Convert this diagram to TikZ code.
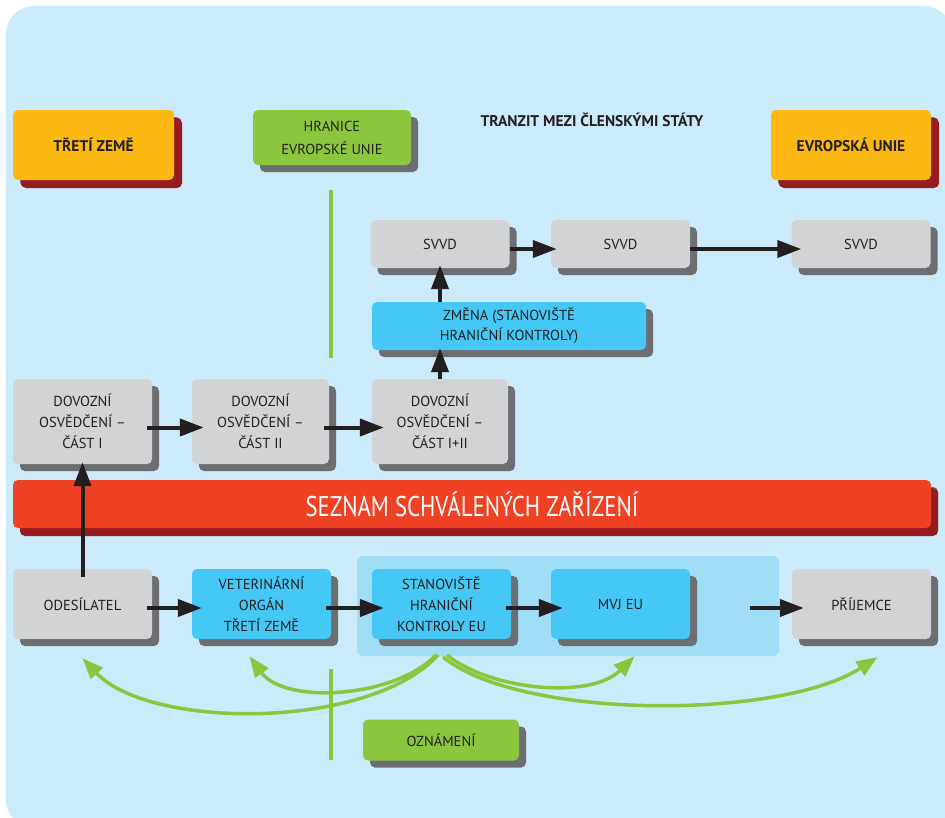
\documentclass[tikz,border=0pt]{standalone}
\usepackage{fontspec}
\setmainfont{PT Sans}
\newfontfamily\narrowfont[FakeStretch=0.8]{PT Sans}
\usetikzlibrary{arrows.meta, positioning, shadows, calc}
\definecolor{bgblue}{RGB}{204,235,250}
\definecolor{hlblue}{RGB}{160,222,246}
\definecolor{boxgray}{RGB}{209,211,212}
\definecolor{boxcyan}{RGB}{69,200,245}
\definecolor{limegreen}{RGB}{140,198,63}
\definecolor{eugold}{RGB}{253,185,19}
\definecolor{darkred}{RGB}{150,28,33}
\definecolor{barred}{RGB}{239,65,35}
\definecolor{shadegray}{RGB}{109,110,113}
\definecolor{txtdark}{RGB}{35,31,32}

\begin{document}
\begin{tikzpicture}[x=1pt, y=-1pt,
    box/.style={rectangle, rounded corners=5pt, minimum width=139pt, align=center, inner sep=2pt, text=txtdark, font=\fontsize{14.5}{21}\selectfont, general shadow={fill=shadegray, shadow xshift=7pt, shadow yshift=-7pt}},
    gbox/.style={box, fill=boxgray},
    cbox/.style={box, fill=boxcyan},
    lbox/.style={box, fill=limegreen},
    obox/.style={box, fill=eugold, minimum width=161pt, minimum height=70pt, font=\fontsize{15.5}{21}\selectfont\bfseries, general shadow={fill=darkred, shadow xshift=8pt, shadow yshift=-8pt}},
    arrow/.style={-{Triangle[length=24pt, width=17pt]}, line width=4pt, txtdark},
    notify/.style={-{Triangle[length=21pt, width=16pt]}, line width=3.5pt, limegreen},
    border/.style={line width=4pt, limegreen},
]
    \useasboundingbox (0,0) rectangle (945,817);
    \begin{scope}
        \clip (0,0) rectangle (945,817);
        \fill[bgblue, rounded corners=28pt] (6,6) rectangle (952,828);
    \end{scope}
    \fill[hlblue, rounded corners=6pt] (357,556) rectangle (779,656);

    \node[obox] (treti) at (93.5,145) {TŘETÍ ZEMĚ};
    \node[lbox, minimum width=158pt, minimum height=55pt, font=\fontsize{14.5}{23}\selectfont] (hranice) at (332,137.5) {HRANICE\\EVROPSKÉ UNIE};
    \node[anchor=base west, font=\fontsize{15.5}{18}\selectfont\bfseries, text=txtdark] (tranzit) at (477,126) {TRANZIT MEZI ČLENSKÝMI STÁTY};
    \node[obox, minimum width=160pt] (evropa) at (851,145) {EVROPSKÁ UNIE};

    \draw[border] (331,190) -- (331,358);
    \draw[border] (331,669) -- (331,760);

    \node[gbox, minimum height=48pt] (svvdA) at (440,244) {SVVD};
    \node[gbox, minimum height=48pt] (svvdB) at (620.5,244) {SVVD};
    \node[gbox, minimum height=48pt] (svvdC) at (861,244) {SVVD};
    \node[cbox, minimum width=274pt, minimum height=48pt, font=\fontsize{14.5}{20}\selectfont] (zmena) at (509,326) {ZMĚNA (STANOVIŠTĚ\\HRANIČNÍ KONTROLY)};

    \node[gbox, minimum height=85pt] (dovozA) at (82.5,421.5) {DOVOZNÍ\\OSVĚDČENÍ –\\ČÁST I};
    \node[gbox, minimum width=137pt, minimum height=85pt] (dovozB) at (260.5,421.5) {DOVOZNÍ\\OSVĚDČENÍ –\\ČÁST II};
    \node[gbox, minimum width=136pt, minimum height=85pt] (dovozC) at (440,421.5) {DOVOZNÍ\\OSVĚDČENÍ –\\ČÁST I+II};

    \node[box, fill=barred, minimum width=918pt, minimum height=48pt, text=white, font=\narrowfont\fontsize{28.5}{32}\selectfont, general shadow={fill=darkred, shadow xshift=7pt, shadow yshift=-8pt}] (seznam) at (472,504) {SEZNAM SCHVÁLENÝCH ZAŘÍZENÍ};

    \node[gbox, minimum height=70pt] (odes) at (82.5,604) {ODESÍLATEL};
    \node[cbox, minimum height=70pt] (vet) at (261.5,604) {VETERINÁRNÍ\\ORGÁN\\TŘETÍ ZEMĚ};
    \node[cbox, minimum height=70pt] (stan) at (441.5,604) {STANOVIŠTĚ\\HRANIČNÍ\\KONTROLY EU};
    \node[cbox, minimum height=70pt] (mvj) at (620.5,604) {MVJ EU};
    \node[gbox, minimum height=70pt] (prij) at (861.5,604) {PŘÍJEMCE};
    \coordinate (mvjout) at (750,608);

    \node[lbox, minimum width=156pt, minimum height=41pt] (oznameni) at (441,740) {OZNÁMENÍ};

    \draw[arrow, shorten <=-8pt, shorten >=-2pt] (odes.north) -- (dovozA.south);
    \draw[arrow, shorten <=-5pt, shorten >=-12pt] ([yshift=-6pt]dovozA.east) -- ([yshift=-6pt]dovozB.west);
    \draw[arrow, shorten <=-5pt, shorten >=-12pt] ([yshift=-6pt]dovozB.east) -- ([yshift=-6pt]dovozC.west);
    \draw[arrow, shorten >=-2pt] (dovozC.north) -- (dovozC.north |- zmena.south);
    \draw[arrow, shorten >=-3pt] (svvdA.south |- zmena.north) -- (svvdA.south);
    \draw[arrow, shorten >=-6pt] ([yshift=-5pt]svvdA.east) -- ([yshift=-5pt]svvdB.west);
    \draw[arrow, shorten >=-10pt] ([yshift=-5pt]svvdB.east) -- ([yshift=-5pt]svvdC.west);
    \draw[arrow, shorten <=-5pt, shorten >=-10pt] ([yshift=-4pt]odes.east) -- ([yshift=-4pt]vet.west);
    \draw[arrow, shorten <=-5pt, shorten >=-12pt] ([yshift=-4pt]vet.east) -- ([yshift=-4pt]stan.west);
    \draw[arrow, shorten <=-5pt, shorten >=-12pt] ([yshift=-4pt]stan.east) -- ([yshift=-4pt]mvj.west);
    \draw[arrow, shorten >=-12pt] (mvjout) -- (mvjout -| prij.west);

    \coordinate (notif) at (440,655);
    \draw[notify] ($(notif)+(-2,0)$) .. controls (370,730) and (150,730) .. ($(odes.south)+(0,19)$);
    \draw[notify] ($(notif)+(-4,0)$) .. controls (395,698) and (285,705) .. ($(vet.south)+(-12,17)$);
    \draw[notify] ($(notif)+(7,0)$) .. controls (490,690) and (590,700) .. ($(mvj.south)+(14,17)$);
    \draw[notify] ($(notif)+(3,2)$) .. controls (520,720) and (780,720) .. ($(prij.south)+(16,18)$);
\end{tikzpicture}
\end{document}
